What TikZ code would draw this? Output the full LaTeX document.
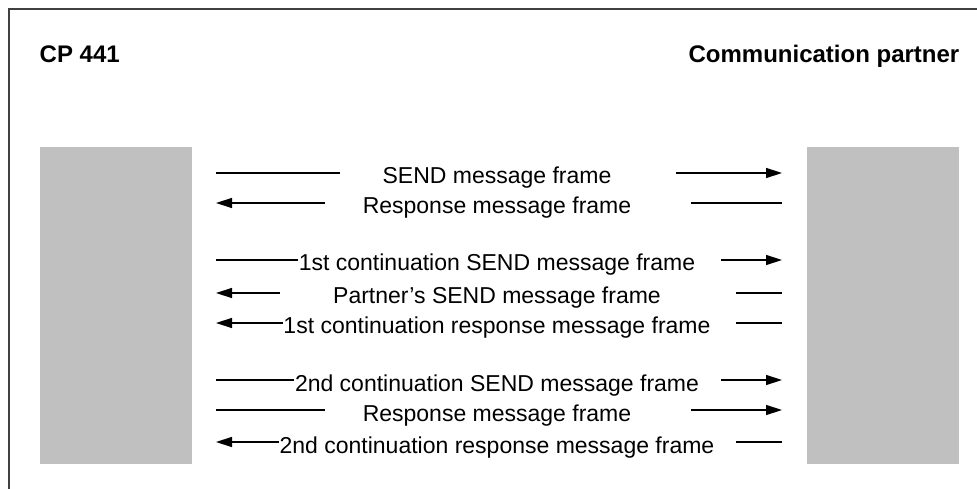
\documentclass[tikz,border=0pt]{standalone}
\usepackage{fontspec}
\setmainfont{Liberation Sans}
\usepackage{xcolor}
\usepackage{tikz}
\usetikzlibrary{arrows.meta,calc}

\definecolor{boxgray}{HTML}{C0C0C0}

\begin{document}
\begin{tikzpicture}[x=1bp, y=-1bp, line width=1.4bp,
    msg/.style={anchor=base, inner sep=0pt, font=\fontsize{23bp}{27bp}\selectfont},
    head/.style={anchor=base, inner sep=0pt, font=\fontsize{24bp}{28bp}\selectfont\bfseries},
    station/.style={fill=boxgray, draw=none},
    arr/.style={-{Triangle[length=16bp,width=10bp]}}]
  \useasboundingbox (0,0) rectangle (977,489);
  % frame, open at the right and bottom
  \draw[line width=1.5bp, black!75] (9,489) -- (9,9) -- (977,9);

  \node[head, anchor=base west] (cp) at (39,63) {CP 441};
  \node[head, anchor=base east] (partner) at (960,63) {Communication partner};

  \fill[station] (40,147) rectangle (192,464);
  \fill[station] (807,147) rectangle (959,464);

  % message texts
  \node[msg] (t1) at (497,184) {SEND message frame};
  \node[msg] (t2) at (497,214) {Response message frame};
  \node[msg] (t3) at (497,271) {1st continuation SEND message frame};
  \node[msg] (t4) at (497,304) {Partner’s SEND message frame};
  \node[msg] (t5) at (497,334) {1st continuation response message frame};
  \node[msg] (t6) at (497,391) {2nd continuation SEND message frame};
  \node[msg] (t7) at (497,421) {Response message frame};
  \node[msg] (t8) at (497,453) {2nd continuation response message frame};

  % line ends at the stations
  \coordinate (l1) at (216,173); \coordinate (r1) at (782,173);
  \coordinate (l2) at (216,203); \coordinate (r2) at (782,203);
  \coordinate (l3) at (216,260); \coordinate (r3) at (782,260);
  \coordinate (l4) at (216,293); \coordinate (r4) at (782,293);
  \coordinate (l5) at (216,323); \coordinate (r5) at (782,323);
  \coordinate (l6) at (216,380); \coordinate (r6) at (782,380);
  \coordinate (l7) at (216,410); \coordinate (r7) at (782,410);
  \coordinate (l8) at (216,442); \coordinate (r8) at (782,442);

  \draw (l1) -- ++(124,0);
  \draw[arr] ($(r1)+(-106,0)$) -- (r1);
  \draw[arr] ($(l2)+(109,0)$) -- (l2);
  \draw ($(r2)+(-91,0)$) -- (r2);
  \draw (l3) -- (t3.west |- l3);
  \draw[arr] ($(r3)+(-61,0)$) -- (r3);
  \draw[arr] ($(l4)+(64,0)$) -- (l4);
  \draw ($(r4)+(-46,0)$) -- (r4);
  \draw[arr] (t5.west |- l5) -- (l5);
  \draw ($(r5)+(-46,0)$) -- (r5);
  \draw (l6) -- (t6.west |- l6);
  \draw[arr] ($(r6)+(-61,0)$) -- (r6);
  \draw (l7) -- ++(109,0);
  \draw[arr] ($(r7)+(-91,0)$) -- (r7);
  \draw[arr] (t8.west |- l8) -- (l8);
  \draw ($(r8)+(-46,0)$) -- (r8);
\end{tikzpicture}
\end{document}
